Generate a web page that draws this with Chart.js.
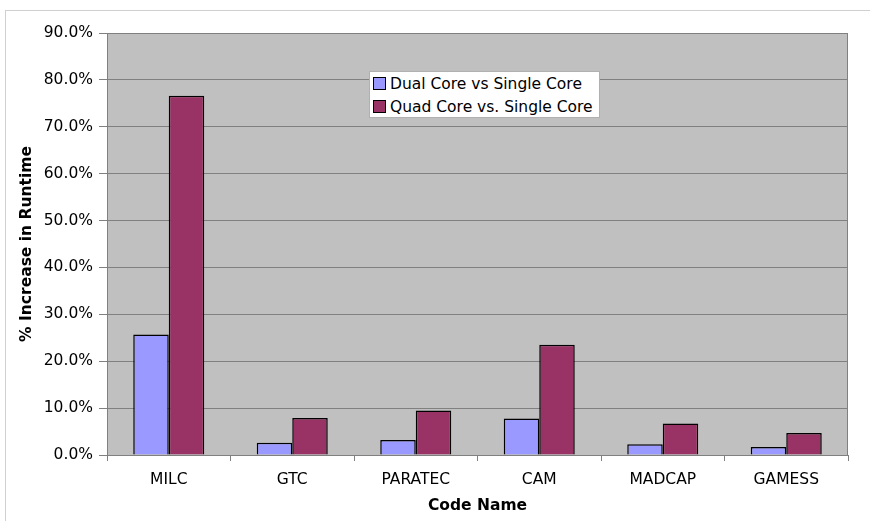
<!DOCTYPE html>
<html lang="en">
  <head>
    <meta charset="UTF-8" />
    <title>Runtime increase</title>
    <script src="https://cdn.jsdelivr.net/npm/chart.js"></script>
    <style>
      html, body { margin: 0; padding: 0; background: #fff; }
      #wrap { position: relative; width: 870px; height: 521px; }
      #frame {
        position: absolute; left: 5px; top: 10px; right: 0; bottom: 0;
        border-top: 1px solid #d0d0d0; border-left: 1px solid #d0d0d0;
        pointer-events: none;
      }
      #legend {
        position: absolute; left: 369px; top: 71px; width: 231px; height: 47px;
        background: #fff; border: 1px solid #b0b0b0;
        font: 15.5px "DejaVu Sans", sans-serif; color: #000;
        padding: 0 0 0 3px; box-sizing: border-box;
      }
      #legend div { display: flex; align-items: center; height: 23px; }
      #legend span.box {
        width: 11px; height: 11px; border: 1px solid #000;
        margin-right: 4px; flex-shrink: 0;
      }
    </style>
  </head>
  <body>
    <div id="wrap">
      <canvas id="runtimeChart" width="870" height="521"></canvas>
      <div id="frame"></div>
      <div id="legend"></div>
    </div>

    <script>
      // Dati
      const codes = ["MILC", "GTC", "PARATEC", "CAM", "MADCAP", "GAMESS"];
      const dualCore = [25.7, 2.6, 3.2, 7.8, 2.3, 1.7];
      const quadCore = [76.6, 7.9, 9.5, 23.5, 6.7, 4.7];
      const seriesNames = ["Dual Core vs Single Core", "Quad Core vs. Single Core"];
      const seriesColors = ["#9999FF", "#993366"];

      // Sfondo grigio e cornice dell'area del grafico
      const plotBackground = {
        id: "plotBackground",
        beforeDraw(chart) {
          const { ctx, chartArea: a } = chart;
          ctx.save();
          ctx.fillStyle = "#C0C0C0";
          ctx.fillRect(a.left, a.top, a.right - a.left, a.bottom - a.top);
          ctx.restore();
        },
        afterDatasetsDraw(chart) {
          const { ctx, chartArea: a } = chart;
          ctx.save();
          ctx.strokeStyle = "#808080";
          ctx.lineWidth = 1;
          ctx.strokeRect(a.left + 0.5, a.top + 0.5, a.right - a.left - 1, a.bottom - a.top);
          ctx.restore();
        },
      };

      const ctx = document.getElementById("runtimeChart").getContext("2d");
      const myChart = new Chart(ctx, {
        type: "bar",
        data: {
          labels: codes,
          datasets: [
            {
              label: seriesNames[0],
              data: dualCore,
              backgroundColor: seriesColors[0],
              borderColor: "#000",
              borderWidth: 1.5,
            },
            {
              label: seriesNames[1],
              data: quadCore,
              backgroundColor: seriesColors[1],
              borderColor: "#000",
              borderWidth: 1.5,
            },
          ],
        },
        options: {
          responsive: false,
          animation: false,
          layout: { padding: { left: 18, right: 22, top: 33, bottom: 6 } },
          plugins: {
            legend: { display: false },
            tooltip: { enabled: false },
          },
          datasets: {
            bar: { categoryPercentage: 0.575, barPercentage: 1 },
          },
          scales: {
            x: {
              grid: {
                drawOnChartArea: false,
                drawTicks: true,
                tickLength: 6,
                color: "#808080",
              },
              border: { color: "#808080" },
              ticks: {
                color: "#000",
                padding: 10,
                font: { family: "DejaVu Sans", size: 15.5 },
              },
              title: {
                display: true,
                text: "Code Name",
                color: "#000",
                padding: { top: 0, bottom: 0 },
                font: { family: "DejaVu Sans", size: 15.5, weight: "bold" },
              },
              afterFit(scale) { scale.height = 60; },
            },
            y: {
              min: 0,
              max: 90,
              grid: { color: "#808080", tickLength: 8 },
              border: { color: "#808080" },
              ticks: {
                stepSize: 10,
                color: "#000",
                padding: 6,
                font: { family: "DejaVu Sans", size: 15.5 },
                callback: (v) => v.toFixed(1) + "%",
              },
              title: {
                display: true,
                text: "% Increase in Runtime",
                color: "#000",
                padding: { top: 0, bottom: 4 },
                font: { family: "DejaVu Sans", size: 15.5, weight: "bold" },
              },
              afterFit(scale) { scale.width = 89; },
            },
          },
        },
        plugins: [plotBackground],
      });

      // Legenda costruita dai dataset
      const legend = document.getElementById("legend");
      myChart.data.datasets.forEach((ds) => {
        const row = document.createElement("div");
        const box = document.createElement("span");
        box.className = "box";
        box.style.background = ds.backgroundColor;
        row.appendChild(box);
        row.appendChild(document.createTextNode(ds.label));
        legend.appendChild(row);
      });
    </script>
  </body>
</html>
